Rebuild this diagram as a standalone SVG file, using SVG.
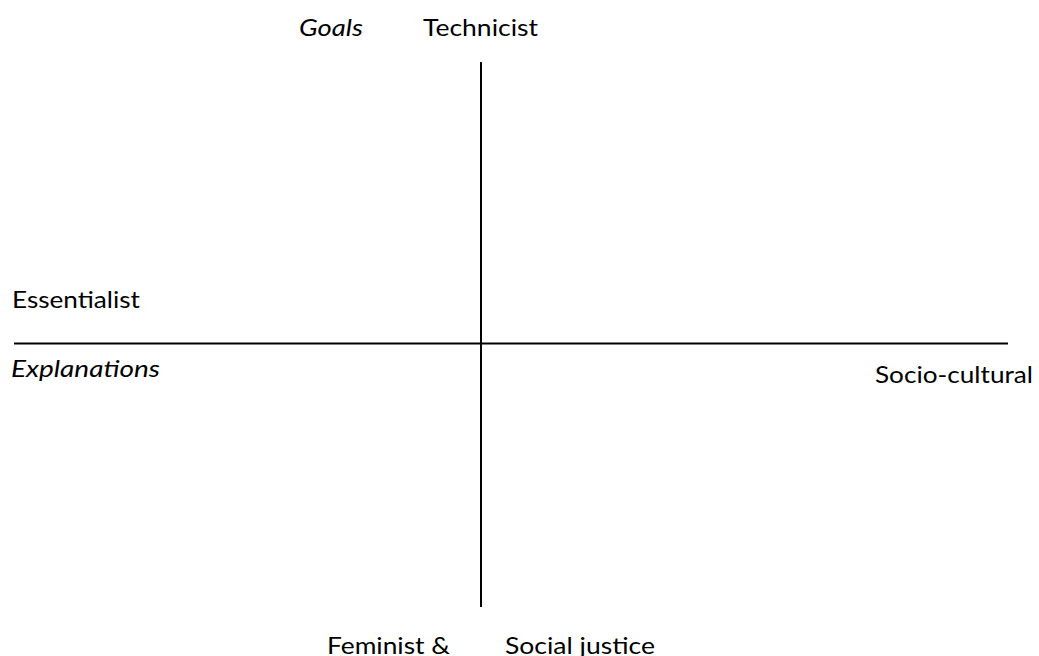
<svg xmlns="http://www.w3.org/2000/svg" width="1039" height="656" viewBox="0 0 1039 656">
<style>
text{font-family:Lato,"Open Sans","Liberation Sans",sans-serif;font-size:24px;fill:#000}
.i{font-style:italic}
.ax{stroke:#000;stroke-width:2;fill:none}
</style>
<rect width="1039" height="656" fill="#fff"/>
<g id="connectors">
<line class="ax" x1="481" y1="62" x2="481" y2="607"/>
<line class="ax" x1="14" y1="343.5" x2="1008" y2="343.5"/>
</g>
<g id="goals"><text class="i" x="299" y="35.5" textLength="64" lengthAdjust="spacingAndGlyphs">Goals</text></g>
<g id="technicist"><text x="423" y="35.5" textLength="115" lengthAdjust="spacingAndGlyphs">Technicist</text></g>
<g id="essentialist"><text x="12" y="307.5" textLength="128" lengthAdjust="spacingAndGlyphs">Essentialist</text></g>
<g id="explanations"><text class="i" x="11" y="377" textLength="149" lengthAdjust="spacingAndGlyphs">Explanations</text></g>
<g id="sociocultural"><text x="875" y="382.5" textLength="158" lengthAdjust="spacingAndGlyphs">Socio-cultural</text></g>
<g id="feminist"><text x="327" y="654" textLength="123" lengthAdjust="spacingAndGlyphs">Feminist &amp;</text></g>
<g id="socialjustice"><text x="505" y="654" textLength="150" lengthAdjust="spacingAndGlyphs">Social justice</text></g>
</svg>
